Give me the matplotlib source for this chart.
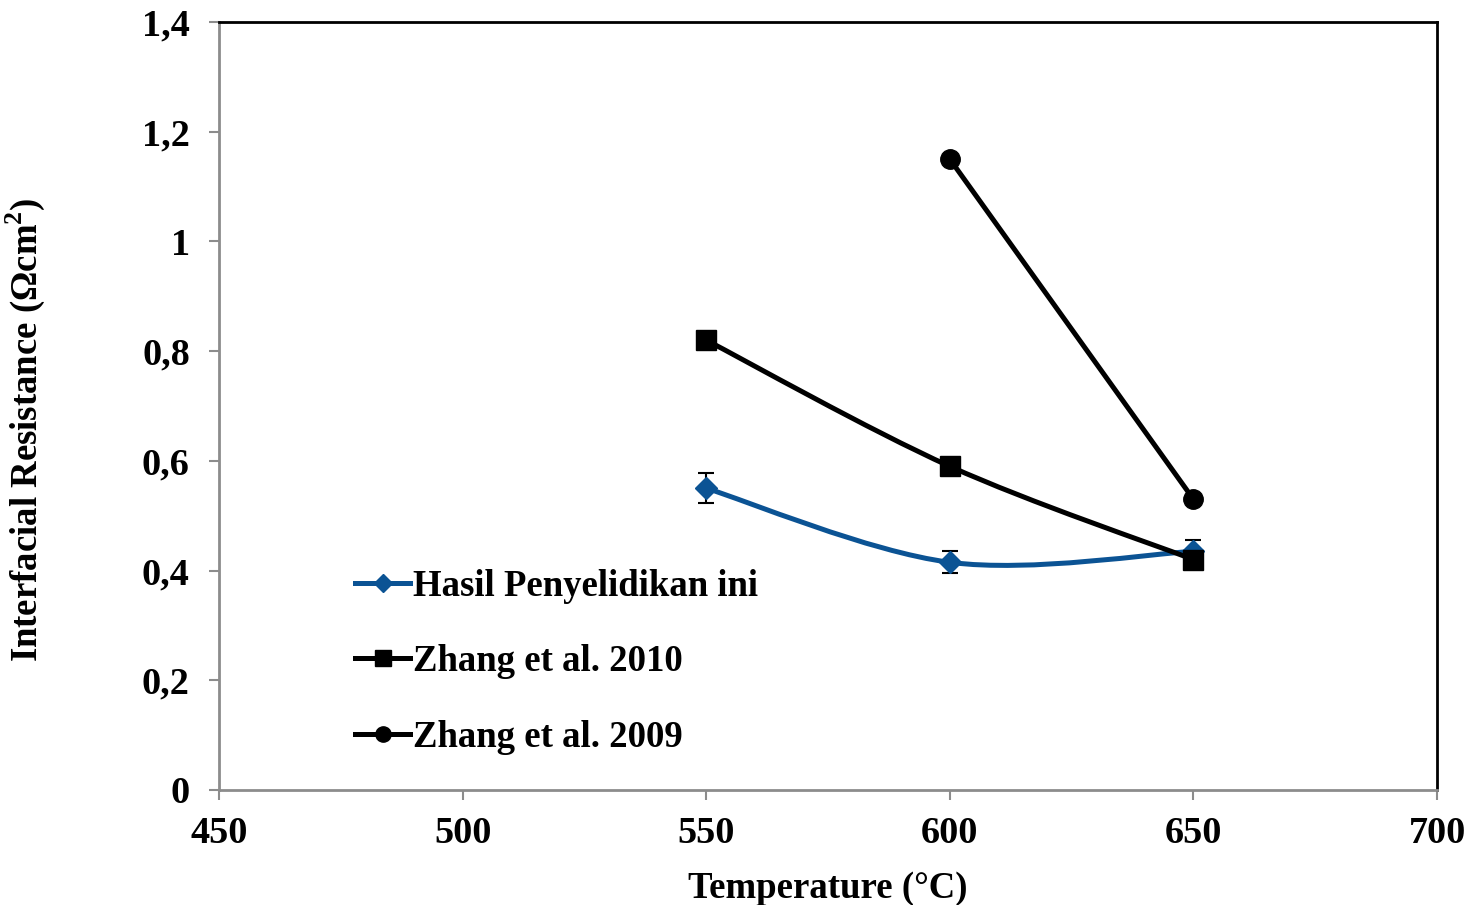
import numpy as np
import matplotlib
matplotlib.use("Agg")
import matplotlib.pyplot as plt
from matplotlib.path import Path
from matplotlib.patches import PathPatch
from matplotlib.lines import Line2D
from matplotlib.ticker import FuncFormatter, MultipleLocator

plt.rcParams['font.family'] = ['Liberation Serif', 'DejaVu Serif']
plt.rcParams['font.weight'] = 'bold'
plt.rcParams['mathtext.fontset'] = 'custom'
plt.rcParams['mathtext.bf'] = 'Liberation Serif:bold'
plt.rcParams['mathtext.rm'] = 'Liberation Serif:bold'

# data
temp_ours = [550, 600, 650]
res_ours = [0.55, 0.415, 0.435]
err_ours = [0.027, 0.02, 0.02]

temp_2010 = [550, 600, 650]
res_2010 = [0.82, 0.59, 0.42]

temp_2009 = [600, 650]
res_2009 = [1.15, 0.53]

labels = ['Hasil Penyelidikan ini', 'Zhang et al. 2010', 'Zhang et al. 2009']
blue = '#0B5394'
axis_grey = '#8C8C8C'


def smooth_path(xs, ys):
    # Excel-style smoothed line (Catmull-Rom as cubic Bezier)
    pts = np.column_stack([xs, ys]).astype(float)
    verts = [pts[0]]
    codes = [Path.MOVETO]
    n = len(pts)
    for i in range(n - 1):
        p0 = pts[i - 1] if i > 0 else pts[i]
        p1 = pts[i]
        p2 = pts[i + 1]
        p3 = pts[i + 2] if i + 2 < n else pts[i + 1]
        c1 = p1 + (p2 - p0) / 6.0
        c2 = p2 - (p3 - p1) / 6.0
        verts += [c1, c2, p2]
        codes += [Path.CURVE4] * 3
    return Path(verts, codes)


fig = plt.figure(figsize=(14.81, 9.05), dpi=100)
ax = fig.add_axes([0.1479, 0.1271, 0.8224, 0.8486])

lw = 3.6
for xs, ys, col in [(temp_ours, res_ours, blue), (temp_2010, res_2010, 'black'),
                    (temp_2009, res_2009, 'black')]:
    ax.add_patch(PathPatch(smooth_path(xs, ys), fill=False, edgecolor=col,
                           linewidth=lw, capstyle='round', zorder=2))

ax.errorbar(temp_ours, res_ours, yerr=err_ours, fmt='none', ecolor='black',
            elinewidth=1.5, capsize=6, capthick=1.5, zorder=3)
ax.plot(temp_ours, res_ours, linestyle='none', marker='D', markersize=11,
        color=blue, zorder=4)
ax.plot(temp_2010, res_2010, linestyle='none', marker='s', markersize=14,
        color='black', zorder=5)
ax.plot(temp_2009, res_2009, linestyle='none', marker='o', markersize=14,
        color='black', zorder=5)

handles = [
    Line2D([], [], color=blue, lw=lw, marker='D', markersize=9),
    Line2D([], [], color='black', lw=lw, marker='s', markersize=11),
    Line2D([], [], color='black', lw=lw, marker='o', markersize=11),
]
ax.legend(handles, labels, loc='upper left', bbox_to_anchor=(0.1117, 0.288),
          frameon=False, fontsize=26.5, handlelength=1.5, handletextpad=0.08,
          labelspacing=1.1, borderpad=0, borderaxespad=0)

ax.set_xlim(450, 700)
ax.set_ylim(0, 1.4)
ax.xaxis.set_major_locator(MultipleLocator(50))
ax.yaxis.set_major_locator(MultipleLocator(0.2))
ax.yaxis.set_major_formatter(FuncFormatter(lambda v, p: ('%g' % round(v, 2)).replace('.', ',')))

ax.tick_params(axis='both', direction='out', length=7, width=1.5,
               color=axis_grey, labelsize=27.5)
ax.tick_params(axis='y', pad=14)
ax.tick_params(axis='x', pad=12)
for lab in ax.get_xticklabels() + ax.get_yticklabels():
    lab.set_fontweight('bold')
for side in ['left', 'bottom']:
    ax.spines[side].set_color(axis_grey)
    ax.spines[side].set_linewidth(2)
for side in ['top', 'right']:
    ax.spines[side].set_color('black')
    ax.spines[side].set_linewidth(2)

ax.set_xlabel('Temperature (°C)', fontsize=26.5, fontweight='bold', labelpad=14)
ax.set_ylabel('Interfacial Resistance (Ωcm$^{\\mathbf{2}}$)', fontsize=26.5,
              fontweight='bold')
ax.yaxis.set_label_coords(-0.141, 0.469)

fig.savefig('out.png', dpi=100)
